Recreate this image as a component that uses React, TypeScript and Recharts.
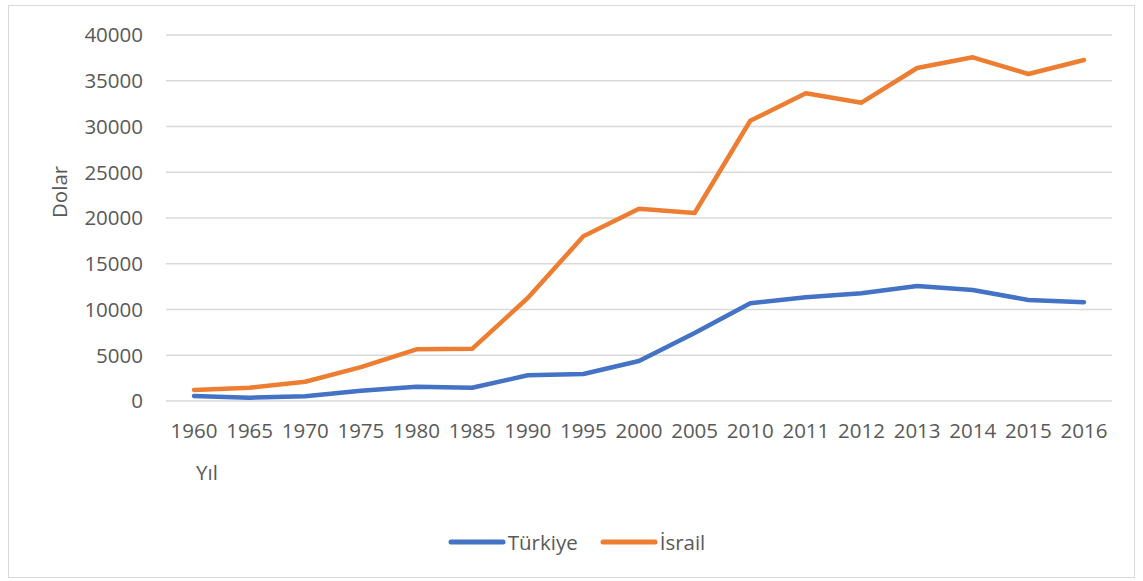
import React from 'react';
import { LineChart, Line, XAxis, YAxis, CartesianGrid, Legend, Label } from 'recharts';

const years = ['1960','1965','1970','1975','1980','1985','1990','1995','2000','2005','2010','2011','2012','2013','2014','2015','2016'];
const turkiye = [550, 360, 510, 1130, 1570, 1450, 2810, 2950, 4370, 7430, 10680, 11330, 11770, 12570, 12130, 11040, 10790];
const israil = [1200, 1450, 2100, 3700, 5650, 5700, 11260, 18000, 21000, 20550, 30630, 33630, 32600, 36390, 37560, 35740, 37270];
const yTicks = [0, 5000, 10000, 15000, 20000, 25000, 30000, 35000, 40000];

const data = years.map((y, i) => ({ year: y, 'Türkiye': turkiye[i], 'İsrail': israil[i] }));

const FONT = '"Open Sans", "Noto Sans", sans-serif';
const TXT = '#595959';
const FS = 20.5;

const renderLegend = (props: any) => {
  const payload = props.payload || [];
  return (
    <div style={{ display: 'flex', justifyContent: 'center', alignItems: 'center', height: 30, paddingLeft: 32, fontFamily: FONT, fontSize: FS, color: TXT }}>
      {payload.map((p: any, i: number) => (
        <div key={i} style={{ display: 'flex', alignItems: 'center', marginRight: i === 0 ? 22 : 0 }}>
          <svg width={58} height={10} style={{ marginRight: 2 }}>
            <line x1={3} y1={5} x2={55} y2={5} stroke={p.color} strokeWidth={5} strokeLinecap="round" />
          </svg>
          <span>{p.value}</span>
        </div>
      ))}
    </div>
  );
};

const renderYil = (props: any) => {
  const vb = props.viewBox || { x: 0, y: 0 };
  return (
    <text x={vb.x + 30} y={vb.y + 79} fill={TXT} fontSize={FS} fontFamily={FONT}>Yıl</text>
  );
};

export default function App() {
  return (
    <div style={{ position: 'absolute', left: 8, top: 5, width: 1127, height: 573, boxSizing: 'border-box', border: '1px solid #d9d9d9', background: '#fff' }}>
      <LineChart width={1125} height={571} data={data} margin={{ top: 29, right: 22, left: 0, bottom: 20 }}>
        <CartesianGrid vertical={false} stroke="#d9d9d9" strokeWidth={1.3} />
        <XAxis
          dataKey="year"
          height={126}
          axisLine={false}
          tickLine={false}
          tickSize={20}
          tickMargin={2}
          interval={0}
          padding={{ left: 28, right: 28 }}
          tick={{ fill: TXT, fontSize: FS, fontFamily: FONT }}
        >
          <Label content={renderYil} />
        </XAxis>
        <YAxis
          width={157}
          domain={[0, 40000]}
          ticks={yTicks}
          axisLine={false}
          tickLine={false}
          tickSize={20}
          tickMargin={3}
          tick={{ fill: TXT, fontSize: FS, fontFamily: FONT }}
          label={{ value: 'Dolar', angle: -90, position: 'insideLeft', offset: 51, fill: TXT, fontSize: FS, fontFamily: FONT }}
        />
        <Legend verticalAlign="bottom" content={renderLegend} />
        <Line type="linear" dataKey="Türkiye" stroke="#4472C4" strokeWidth={4.5} dot={false} isAnimationActive={false} strokeLinecap="round" strokeLinejoin="round" />
        <Line type="linear" dataKey="İsrail" stroke="#ED7D31" strokeWidth={4.5} dot={false} isAnimationActive={false} strokeLinecap="round" strokeLinejoin="round" />
      </LineChart>
    </div>
  );
}
